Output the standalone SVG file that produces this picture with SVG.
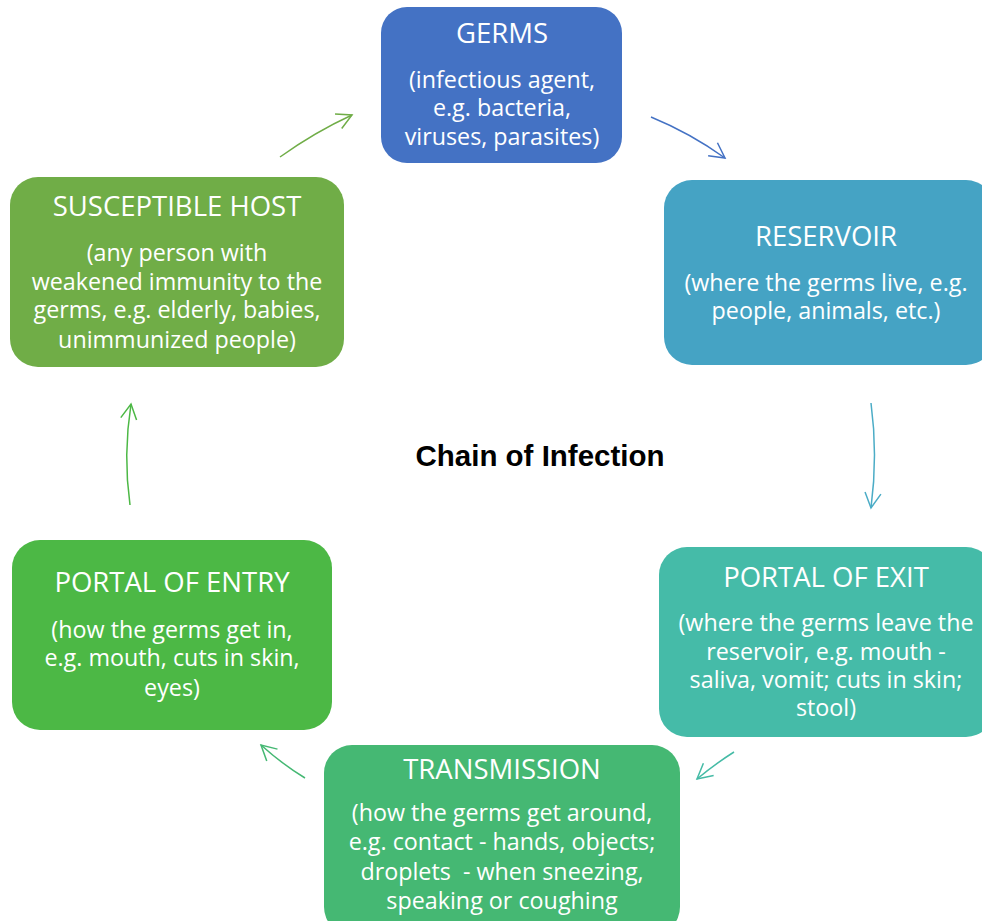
<svg xmlns="http://www.w3.org/2000/svg" width="982" height="921" viewBox="0 0 982 921">
<defs>
<style>
.t{font-family:"Open Sans","Noto Sans",sans-serif;fill:#fff;text-anchor:middle;}
.h{font-size:27.5px;}
.s{font-size:23.3px;}
.ttl{font-family:"Liberation Sans",Arial,sans-serif;font-weight:bold;font-size:29.5px;fill:#000;text-anchor:middle;}
.c{fill:none;stroke-width:1.5;}
</style>
<marker id="m1" viewBox="0 0 20 20" refX="18" refY="10" markerWidth="20" markerHeight="20" markerUnits="userSpaceOnUse" orient="auto"><path d="M3,2 L18,10 L3,18" fill="none" stroke="#70AD47" stroke-width="1.5"/></marker>
<marker id="m2" viewBox="0 0 20 20" refX="18" refY="10" markerWidth="20" markerHeight="20" markerUnits="userSpaceOnUse" orient="auto"><path d="M3,2 L18,10 L3,18" fill="none" stroke="#4472C4" stroke-width="1.5"/></marker>
<marker id="m3" viewBox="0 0 20 20" refX="18" refY="10" markerWidth="20" markerHeight="20" markerUnits="userSpaceOnUse" orient="auto"><path d="M3,2 L18,10 L3,18" fill="none" stroke="#4BACC6" stroke-width="1.5"/></marker>
<marker id="m4" viewBox="0 0 20 20" refX="18" refY="10" markerWidth="20" markerHeight="20" markerUnits="userSpaceOnUse" orient="auto"><path d="M3,2 L18,10 L3,18" fill="none" stroke="#45BBA6" stroke-width="1.5"/></marker>
<marker id="m5" viewBox="0 0 20 20" refX="18" refY="10" markerWidth="20" markerHeight="20" markerUnits="userSpaceOnUse" orient="auto"><path d="M3,2 L18,10 L3,18" fill="none" stroke="#45B873" stroke-width="1.5"/></marker>
<marker id="m6" viewBox="0 0 20 20" refX="18" refY="10" markerWidth="20" markerHeight="20" markerUnits="userSpaceOnUse" orient="auto"><path d="M3,2 L18,10 L3,18" fill="none" stroke="#4CB845" stroke-width="1.5"/></marker>
</defs>
<rect width="982" height="921" fill="#fff"/>
<g id="connectors">
<path class="c" stroke="#70AD47" d="M280,157 Q315,132 352,115" marker-end="url(#m1)"/>
<path class="c" stroke="#4472C4" d="M651,117 Q690,133 725,158" marker-end="url(#m2)"/>
<path class="c" stroke="#4BACC6" d="M871,403 Q878,455 871,508" marker-end="url(#m3)"/>
<path class="c" stroke="#45BBA6" d="M734,752 Q715,764 697,779" marker-end="url(#m4)"/>
<path class="c" stroke="#45B873" d="M305,778 Q282,764 261,745" marker-end="url(#m5)"/>
<path class="c" stroke="#4CB845" d="M130,505 Q123,455 131,404" marker-end="url(#m6)"/>
</g>
<g id="germs">
<rect x="381" y="7" width="241" height="156" rx="26" fill="#4472C4"/>
<text class="t h" x="502" y="43">GERMS</text>
<text class="t s" x="502" y="88">(infectious agent,</text>
<text class="t s" x="502" y="116">e.g. bacteria,</text>
<text class="t s" x="502" y="145">viruses, parasites)</text>
</g>
<g id="reservoir">
<rect x="664" y="180" width="330" height="185" rx="28" fill="#45A3C4"/>
<text class="t h" x="826" y="246">RESERVOIR</text>
<text class="t s" x="826" y="291">(where the germs live, e.g.</text>
<text class="t s" x="826" y="319">people, animals, etc.)</text>
</g>
<g id="portal-exit">
<rect x="659" y="547" width="335" height="190" rx="28" fill="#45BBA8"/>
<text class="t h" x="826" y="587">PORTAL OF EXIT</text>
<text class="t s" x="826" y="631">(where the germs leave the</text>
<text class="t s" x="826" y="660">reservoir, e.g. mouth -</text>
<text class="t s" x="826" y="688">saliva, vomit; cuts in skin;</text>
<text class="t s" x="826" y="716">stool)</text>
</g>
<g id="transmission">
<rect x="324" y="745" width="356" height="190" rx="28" fill="#45B873"/>
<text class="t h" x="502" y="779">TRANSMISSION</text>
<text class="t s" x="502" y="821">(how the germs get around,</text>
<text class="t s" x="502" y="850">e.g. contact - hands, objects;</text>
<text class="t s" x="502" y="880" style="white-space:pre">droplets  - when sneezing,</text>
<text class="t s" x="502" y="909">speaking or coughing</text>
</g>
<g id="portal-entry">
<rect x="12" y="540" width="320" height="190" rx="28" fill="#4CB845"/>
<text class="t h" x="172" y="592">PORTAL OF ENTRY</text>
<text class="t s" x="172" y="638">(how the germs get in,</text>
<text class="t s" x="172" y="666">e.g. mouth, cuts in skin,</text>
<text class="t s" x="172" y="696">eyes)</text>
</g>
<g id="susceptible-host">
<rect x="10" y="177" width="334" height="190" rx="28" fill="#70AD47"/>
<text class="t h" x="177" y="216">SUSCEPTIBLE HOST</text>
<text class="t s" x="177" y="261">(any person with</text>
<text class="t s" x="177" y="290">weakened immunity to the</text>
<text class="t s" x="177" y="318">germs, e.g. elderly, babies,</text>
<text class="t s" x="177" y="348">unimmunized people)</text>
</g>
<text class="ttl" x="540" y="466">Chain of Infection</text>
</svg>
